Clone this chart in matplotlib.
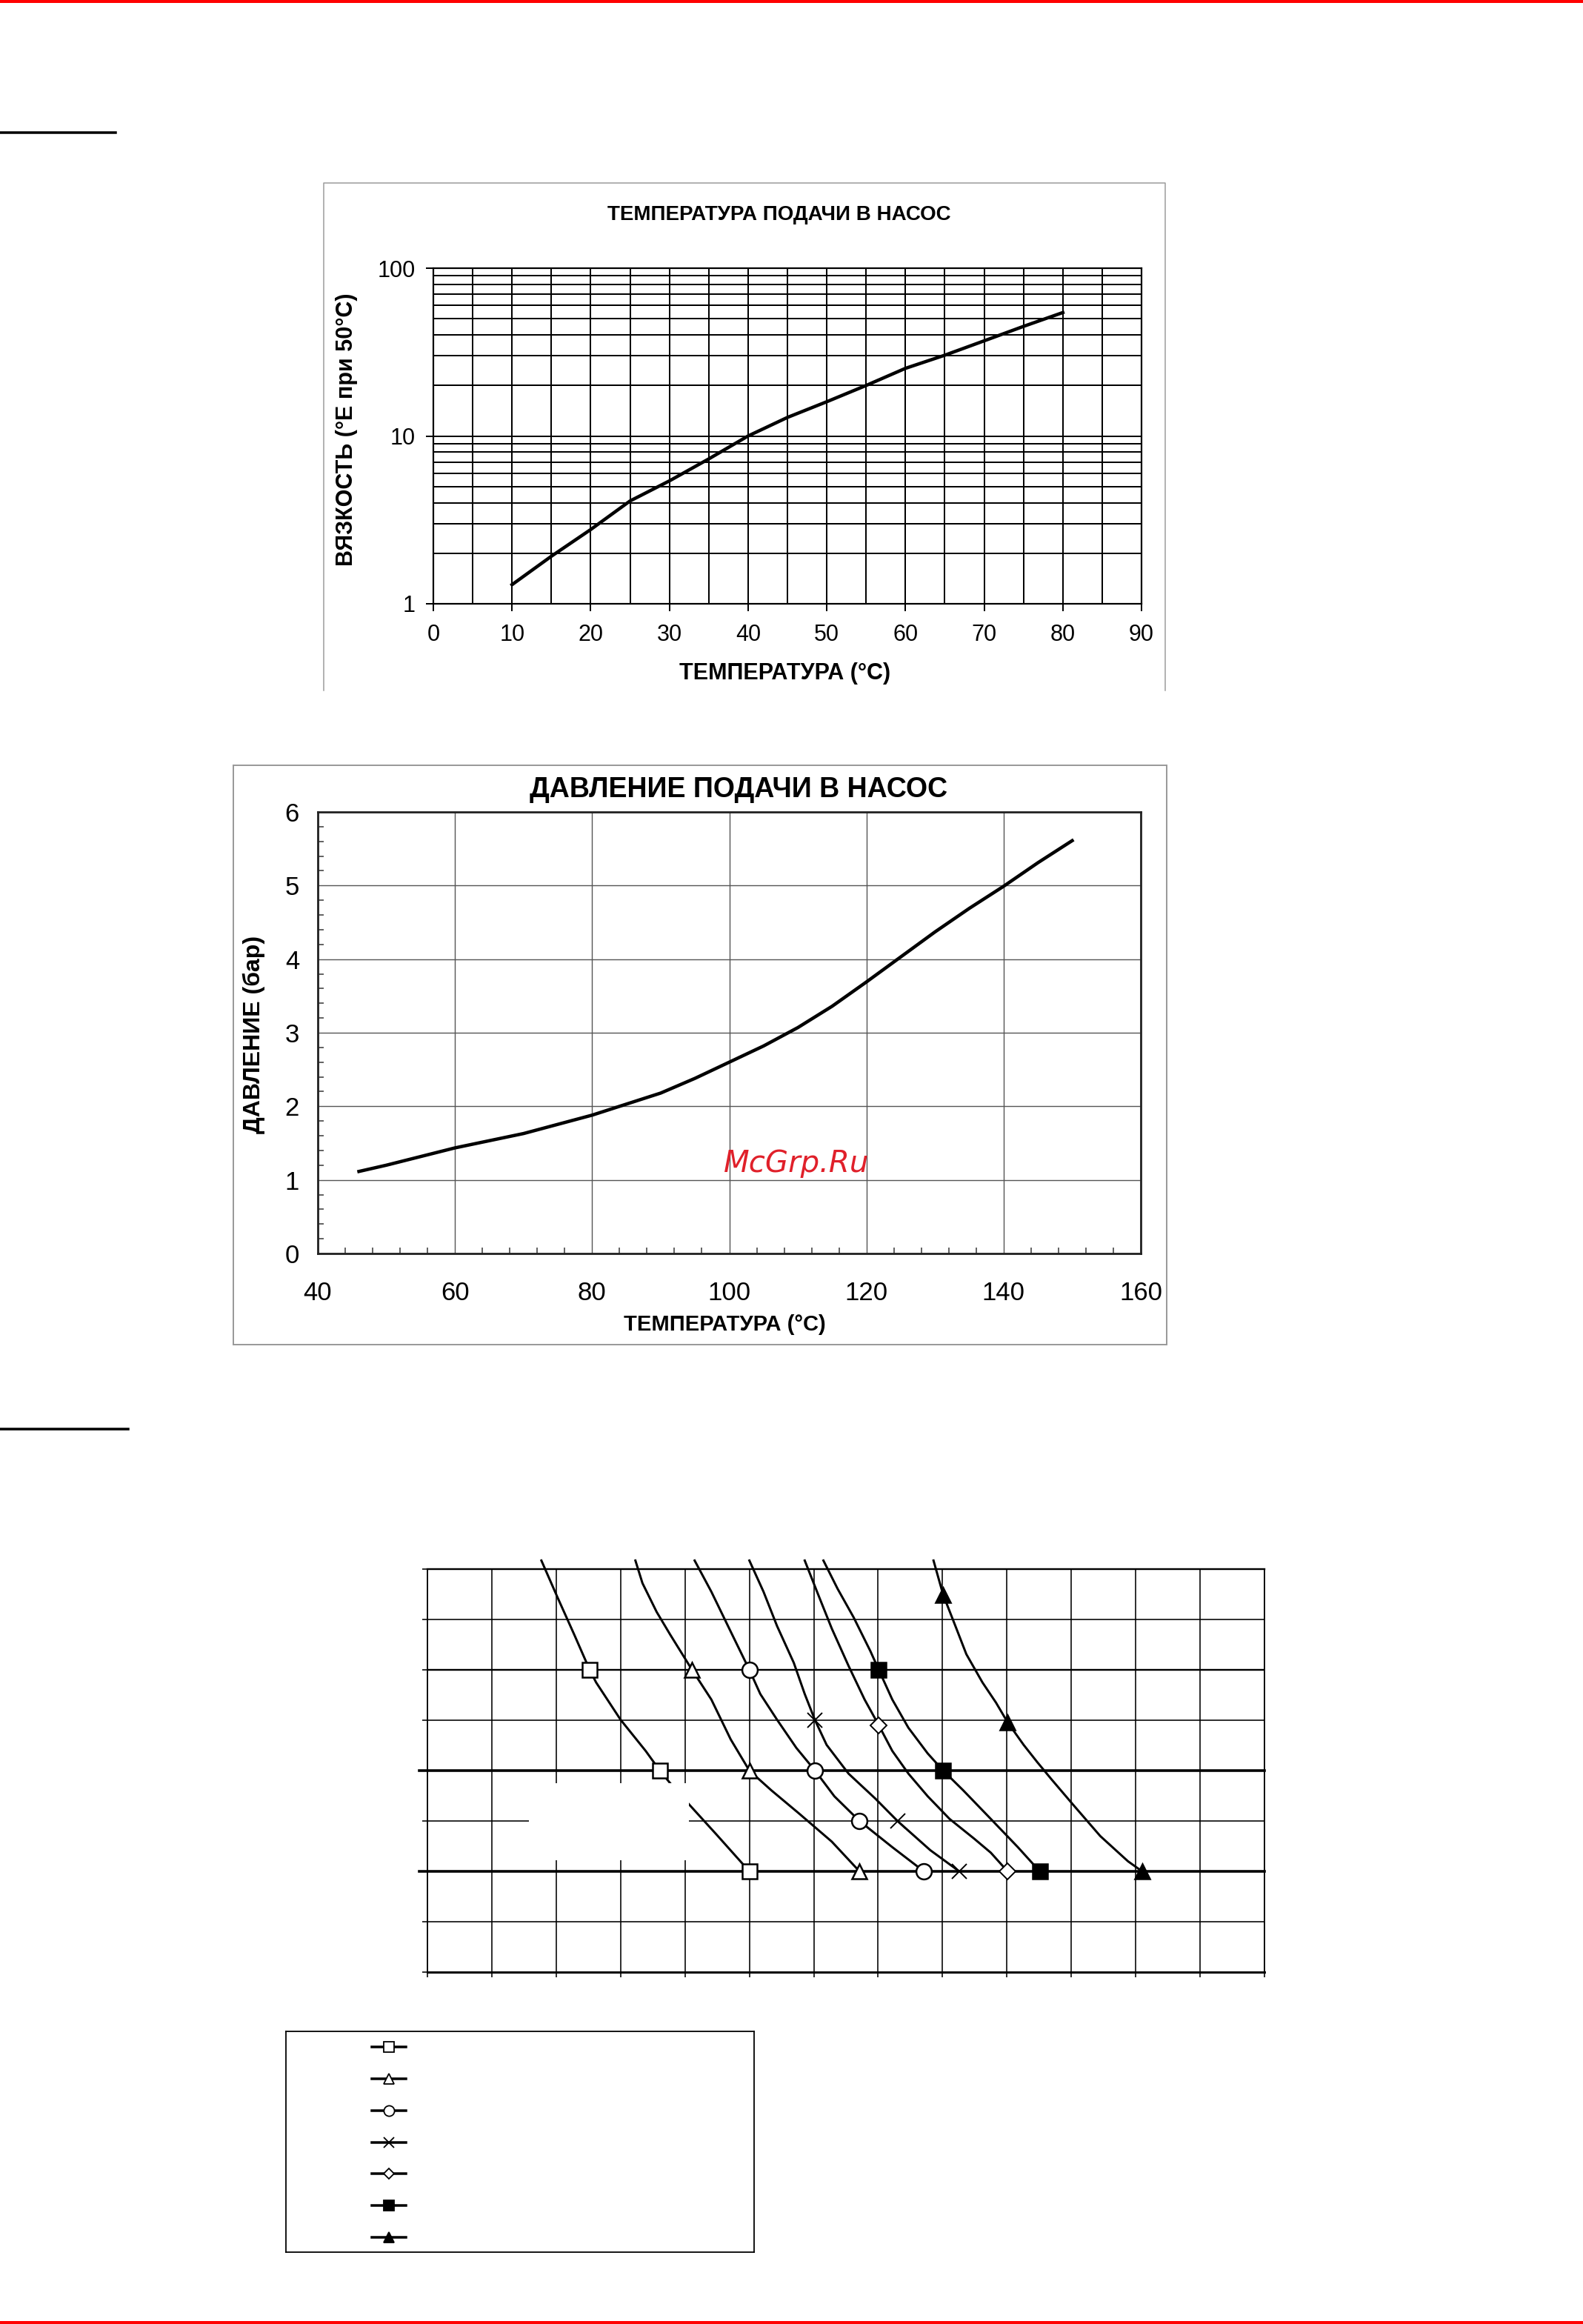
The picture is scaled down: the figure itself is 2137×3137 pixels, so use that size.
import matplotlib
matplotlib.use('Agg')
import matplotlib.pyplot as plt
from matplotlib.lines import Line2D
from matplotlib.patches import Rectangle
from matplotlib.ticker import MultipleLocator, LogLocator, NullFormatter, FixedLocator, FuncFormatter

plt.rcParams['font.family'] = ['Liberation Sans', 'DejaVu Sans']

#%% data
# viscosity vs feed temperature (log scale)
visc_temp = [10, 15, 20, 25, 30, 35, 40, 45, 50, 55, 60, 65, 70, 75, 80]
visc_val = [1.30, 1.92, 2.77, 4.1, 5.4, 7.3, 10.0, 12.9, 16.0, 20.0, 25.3, 30.3, 36.9, 45.0, 54.4]

# feed pressure vs temperature
pres_temp = [46, 50, 60, 70, 80, 85, 90, 95, 100, 105, 110, 115, 120, 125, 130, 135, 140, 145, 150]
pres_val = [1.115, 1.2, 1.435, 1.63, 1.88, 2.03, 2.18, 2.38, 2.6, 2.82, 3.07, 3.36, 3.69, 4.03, 4.37, 4.69, 4.99, 5.31, 5.61]

# unlabeled family of curves (grid units: 13 columns x 8 rows)
sq_x = [1.77, 2.02, 2.28, 2.52, 2.62, 3.0, 3.39, 3.61, 3.77, 4.07, 4.49, 5.0]
sq_y = [8.17, 7.44, 6.70, 6.0, 5.75, 5.01, 4.39, 4.0, 3.75, 3.32, 2.73, 2.0]
sq_mx = [2.52, 3.61, 5.0]
sq_my = [6, 4, 2]

tri_x = [3.23, 3.34, 3.56, 3.77, 4.11, 4.41, 4.71, 5.0, 5.34, 5.77, 6.28, 6.71]
tri_y = [8.17, 7.72, 7.15, 6.70, 6.0, 5.41, 4.62, 4.0, 3.61, 3.15, 2.59, 2.0]
tri_mx = [4.11, 5.0, 6.71]
tri_my = [6, 4, 2]

circ_x = [4.15, 4.41, 4.71, 5.0, 5.17, 5.43, 5.73, 6.02, 6.32, 6.71, 7.22, 7.71]
circ_y = [8.17, 7.55, 6.76, 6.0, 5.52, 5.01, 4.45, 4.0, 3.49, 3.0, 2.48, 2.0]
circ_mx = [5.0, 6.02, 6.71, 7.71]
circ_my = [6, 4, 3, 2]

cross_x = [5.0, 5.22, 5.43, 5.69, 5.86, 6.02, 6.20, 6.54, 6.96, 7.30, 7.81, 8.26]
cross_y = [8.17, 7.55, 6.87, 6.14, 5.52, 5.0, 4.51, 3.94, 3.44, 3.0, 2.42, 2.0]
cross_mx = [6.02, 7.30, 8.26]
cross_my = [5, 3, 2]

dia_x = [5.86, 6.07, 6.28, 6.54, 6.79, 7.01, 7.22, 7.47, 7.77, 8.11, 8.49, 8.75, 9.01]
dia_y = [8.17, 7.49, 6.82, 6.08, 5.41, 4.90, 4.39, 3.94, 3.49, 3.04, 2.65, 2.37, 2.0]
dia_mx = [7.01, 9.01]
dia_my = [4.90, 2]

fsq_x = [6.15, 6.37, 6.62, 6.88, 7.01, 7.22, 7.47, 7.77, 8.01, 8.32, 8.75, 9.17, 9.51]
fsq_y = [8.17, 7.61, 7.04, 6.37, 6.0, 5.41, 4.85, 4.34, 4.0, 3.61, 3.04, 2.48, 2.0]
fsq_mx = [7.01, 8.01, 9.51]
fsq_my = [6, 4, 2]

ftri_x = [7.86, 8.01, 8.20, 8.37, 8.62, 8.83, 9.01, 9.26, 9.47, 9.69, 10.03, 10.45, 10.88, 11.10]
ftri_y = [8.17, 7.49, 6.87, 6.31, 5.75, 5.35, 4.96, 4.51, 4.17, 3.83, 3.32, 2.70, 2.20, 2.0]
ftri_mx = [8.01, 9.01, 11.10]
ftri_my = [7.49, 4.96, 2]

#%% page setup
W, H = 2137, 3137
DPI = 100


def rect(x0, y0, x1, y1):
    # pixel box (origin top-left) -> figure fraction
    return [x0 / W, 1 - y1 / H, (x1 - x0) / W, (y1 - y0) / H]


def pt(px):
    return px * 72 / DPI


def fx(x):
    return x / W


def fy(y):
    return 1 - y / H


fig = plt.figure(figsize=(W / DPI, H / DPI), dpi=DPI)
fig.patch.set_facecolor('white')

# red page rules and section underlines
red = '#ff0000'
fig.add_artist(Line2D([0, 1], [fy(2), fy(2)], color=red, lw=pt(4)))
fig.add_artist(Line2D([0, 1], [fy(3135), fy(3135)], color=red, lw=pt(4)))
fig.add_artist(Line2D([0, fx(156)], [fy(179), fy(179)], color='black', lw=pt(3.5)))
fig.add_artist(Line2D([0, fx(173)], [fy(1929), fy(1929)], color='black', lw=pt(3.5)))

#%% chart 1 - viscosity
box_grey = '#9a9a9a'
fig.add_artist(Line2D([fx(437), fx(437), fx(1573), fx(1573)],
                      [fy(932), fy(247), fy(247), fy(932)], color=box_grey, lw=pt(1.5)))

ax1 = fig.add_axes(rect(585, 362, 1541, 815))
ax1.set_yscale('log')
ax1.set_xlim(0, 90)
ax1.set_ylim(1, 100)
ax1.plot(visc_temp, visc_val, color='black', lw=pt(4.5), zorder=3)
ax1.xaxis.set_major_locator(MultipleLocator(10))
ax1.xaxis.set_minor_locator(MultipleLocator(5))
ax1.yaxis.set_major_locator(FixedLocator([1, 10, 100]))
ax1.yaxis.set_major_formatter(FuncFormatter(lambda v, p: f'{v:g}'))
ax1.yaxis.set_minor_locator(LogLocator(base=10, subs=range(2, 10)))
ax1.yaxis.set_minor_formatter(NullFormatter())
ax1.grid(which='both', color='black', lw=pt(2.0))
ax1.tick_params(which='major', length=pt(10), width=pt(2.0), labelsize=22, direction='out')
ax1.tick_params(axis='x', which='major', pad=12)
ax1.tick_params(axis='y', which='major', pad=10)
ax1.tick_params(which='minor', length=0)
for s in ax1.spines.values():
    s.set_linewidth(pt(2.2))

fig.text(fx(1052), fy(290), 'ТЕМПЕРАТУРА ПОДАЧИ В НАСОС', ha='center', va='center',
         fontsize=20, fontweight='bold')
fig.text(fx(1060), fy(909), 'ТЕМПЕРАТУРА (°C)', ha='center', va='center',
         fontsize=22, fontweight='bold')
fig.text(fx(468), fy(580), 'ВЯЗКОСТЬ (°E при 50°C)', ha='center', va='center',
         rotation=90, fontsize=22, fontweight='bold')

#%% chart 2 - feed pressure
fig.add_artist(Rectangle((fx(315), fy(1815)), fx(1575) - fx(315), fy(1033) - fy(1815),
                         transform=fig.transFigure, fill=False, edgecolor=box_grey, lw=pt(2)))

ax2 = fig.add_axes(rect(429, 1096, 1540, 1692))
ax2.set_xlim(40, 160)
ax2.set_ylim(0, 6)
ax2.plot(pres_temp, pres_val, color='black', lw=pt(4.5), zorder=3)
ax2.xaxis.set_major_locator(MultipleLocator(20))
ax2.xaxis.set_minor_locator(MultipleLocator(4))
ax2.yaxis.set_major_locator(MultipleLocator(1))
ax2.yaxis.set_minor_locator(MultipleLocator(0.2))
ax2.grid(which='major', color='#555555', lw=pt(1.4))
ax2.tick_params(which='major', length=0, labelsize=25)
ax2.tick_params(axis='x', which='major', pad=27)
ax2.tick_params(axis='y', which='major', pad=18)
ax2.tick_params(which='minor', direction='in', length=pt(8), width=pt(1.5), color='#333333')
for s in ax2.spines.values():
    s.set_linewidth(pt(2.8))
    s.set_color('#222222')

fig.text(fx(997), fy(1066), 'ДАВЛЕНИЕ ПОДАЧИ В НАСОС', ha='center', va='center',
         fontsize=27, fontweight='bold')
fig.text(fx(978), fy(1788), 'ТЕМПЕРАТУРА (°C)', ha='center', va='center',
         fontsize=21, fontweight='bold')
fig.text(fx(343), fy(1396), 'ДАВЛЕНИЕ (бар)', ha='center', va='center',
         rotation=90, fontsize=23, fontweight='bold')
fig.text(fx(1075), fy(1571), 'McGrp.Ru', ha='center', va='center', fontsize=29,
         style='italic', color='#e0202a', family='DejaVu Sans')

#%% chart 3 - curve family (labels removed in original)
ax3 = fig.add_axes(rect(577, 2118, 1707, 2662))
ax3.set_xlim(0, 13)
ax3.set_ylim(0, 8)
ax3.set_xticks(range(14))
ax3.set_yticks(range(9))
ax3.set_xticklabels([])
ax3.set_yticklabels([])
ax3.tick_params(length=pt(7), width=pt(1.6), direction='out')
ax3.grid(color='black', lw=pt(1.6))
for side, w in [('top', 2.4), ('bottom', 3.0), ('left', 1.8), ('right', 1.8)]:
    ax3.spines[side].set_linewidth(pt(w))

heavy_rows = [2, 4]
for r in heavy_rows:
    ax3.axhline(r, xmin=-0.01, xmax=1, color='black', lw=pt(3.6), clip_on=False, zorder=2.5)
ax3.axhline(6, color='black', lw=pt(2.4), zorder=2.5)

# white patch hiding a removed label
ax3.add_patch(Rectangle((1.58, 2.22), 4.06 - 1.58, 3.75 - 2.22, facecolor='white',
                        edgecolor='none', zorder=5))

series = [
    (sq_x, sq_y, sq_mx, sq_my, 's', 'white', 15, 1.8),
    (tri_x, tri_y, tri_mx, tri_my, '^', 'white', 15, 1.8),
    (circ_x, circ_y, circ_mx, circ_my, 'o', 'white', 15, 1.8),
    (cross_x, cross_y, cross_mx, cross_my, 'x', 'black', 15, 1.4),
    (dia_x, dia_y, dia_mx, dia_my, 'D', 'white', 11, 1.4),
    (fsq_x, fsq_y, fsq_mx, fsq_my, 's', 'black', 15, 1.8),
    (ftri_x, ftri_y, ftri_mx, ftri_my, '^', 'black', 15, 1.8),
]
handles = []
for cx, cy, mx, my, mk, fc, ms, mew in series:
    ax3.plot(cx, cy, color='black', lw=pt(3.0), clip_on=False, zorder=3)
    ax3.plot(mx, my, ls='none', marker=mk, markersize=ms, markerfacecolor=fc,
             markeredgecolor='black', markeredgewidth=mew, clip_on=False, zorder=6)
    handles.append(Line2D([], [], color='black', lw=pt(3.5), marker=mk, markersize=ms * 0.68,
                          markerfacecolor=fc, markeredgecolor='black', markeredgewidth=1.3))

# legend box (labels blank in source)
lax = fig.add_axes(rect(386, 2742, 1018, 3040))
lax.set_xticks([])
lax.set_yticks([])
for s in lax.spines.values():
    s.set_linewidth(pt(1.8))
lax.legend(handles, [''] * len(handles), loc='upper left',
           bbox_to_anchor=((502 - 386) / (1018 - 386), 1 - (2755 - 2742) / (3040 - 2742)),
           frameon=False, borderpad=0, borderaxespad=0, handlelength=2.07,
           handletextpad=0, labelspacing=0.98, fontsize=16)

fig.savefig('out.png', dpi=DPI)
